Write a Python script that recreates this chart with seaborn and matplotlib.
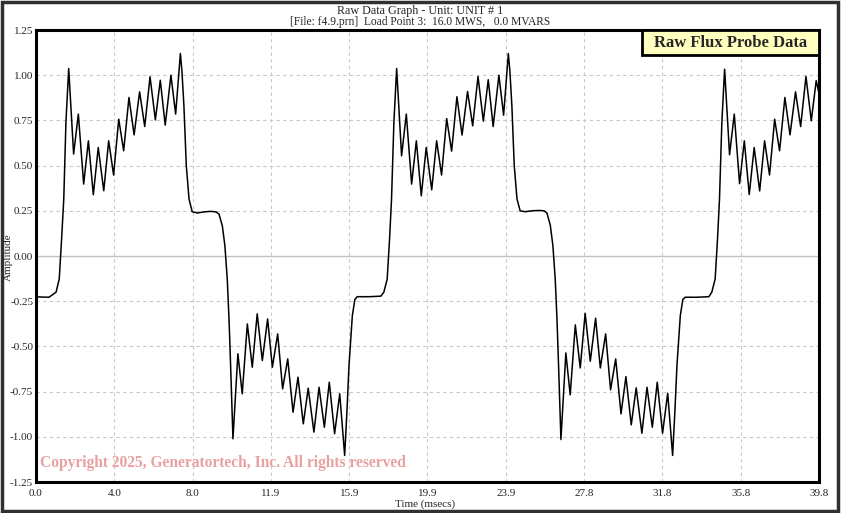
import numpy as np
import pandas as pd
import matplotlib
matplotlib.use("Agg")
import matplotlib.pyplot as plt
import seaborn as sns
from matplotlib.patches import Rectangle

# traced waveform, one list pair per cycle (time in ms, amplitude)
t_cycle1 = [0.00, 0.66, 1.02, 1.18, 1.30, 1.41, 1.52, 1.66, 1.91, 2.15, 2.42, 2.66, 2.91, 3.16,
            3.44, 3.69, 3.94, 4.20, 4.45, 4.72, 4.98, 5.26, 5.52, 5.79, 6.06, 6.31, 6.56, 6.85,
            7.09, 7.33, 7.41, 7.51, 7.63, 7.77, 7.93, 8.19, 8.53, 8.87, 9.14, 9.29, 9.46, 9.59,
            9.71, 9.80, 9.88, 10.00, 10.25, 10.47, 10.73, 10.98, 11.23, 11.49, 11.76, 12.00,
            12.27, 12.52, 12.78, 13.05, 13.30, 13.57, 13.82, 14.11, 14.37, 14.64, 14.89, 15.16,
            15.42, 15.67, 15.79, 15.89, 16.06, 16.19, 16.31, 16.91, 17.51]
a_cycle1 = [-0.226, -0.228, -0.200, -0.127, 0.094, 0.315, 0.740, 1.037, 0.564, 0.785, 0.398, 0.637,
            0.339, 0.600, 0.361, 0.637, 0.448, 0.757, 0.582, 0.877, 0.670, 0.908, 0.716, 0.991,
            0.753, 0.972, 0.724, 1.000, 0.785, 1.120, 1.020, 0.830, 0.500, 0.315, 0.245, 0.238,
            0.244, 0.247, 0.244, 0.232, 0.167, 0.057, -0.127, -0.350, -0.606, -1.011, -0.541,
            -0.762, -0.376, -0.615, -0.320, -0.578, -0.348, -0.615, -0.431, -0.735, -0.569,
            -0.864, -0.670, -0.928, -0.731, -0.974, -0.726, -0.947, -0.698, -0.983, -0.762,
            -1.103, -0.850, -0.606, -0.330, -0.240, -0.225, -0.225, -0.222]

t_cycle2 = [17.66, 17.83, 17.95, 18.05, 18.17, 18.31, 18.56, 18.80, 19.07, 19.31, 19.56, 19.81,
            20.09, 20.34, 20.59, 20.85, 21.10, 21.37, 21.63, 21.91, 22.17, 22.44, 22.71, 22.96,
            23.21, 23.50, 23.74, 23.98, 24.06, 24.16, 24.28, 24.42, 24.58, 24.84, 25.18, 25.52,
            25.79, 25.94, 26.11, 26.24, 26.36, 26.45, 26.53, 26.65, 26.90, 27.12, 27.38, 27.63,
            27.88, 28.14, 28.41, 28.65, 28.92, 29.17, 29.43, 29.70, 29.95, 30.22, 30.47, 30.76,
            31.02, 31.29, 31.54, 31.81, 32.07, 32.32, 32.44, 32.54, 32.71, 32.84, 32.96, 33.56,
            34.16]
a_cycle2 = [-0.200, -0.127, 0.094, 0.315, 0.740, 1.037, 0.554, 0.785, 0.398, 0.637, 0.333, 0.600,
            0.366, 0.637, 0.448, 0.760, 0.580, 0.881, 0.669, 0.910, 0.720, 0.993, 0.746, 0.975,
            0.716, 1.000, 0.779, 1.120, 1.020, 0.830, 0.500, 0.315, 0.250, 0.245, 0.250, 0.252,
            0.250, 0.238, 0.170, 0.060, -0.127, -0.350, -0.606, -1.015, -0.536, -0.768, -0.381,
            -0.619, -0.317, -0.582, -0.344, -0.619, -0.431, -0.740, -0.569, -0.873, -0.667,
            -0.934, -0.729, -0.980, -0.726, -0.947, -0.698, -0.980, -0.759, -1.103, -0.850,
            -0.606, -0.330, -0.240, -0.228, -0.228, -0.225]

t_cycle3 = [34.31, 34.48, 34.60, 34.70, 34.82, 34.96, 35.21, 35.45, 35.72, 35.96, 36.21, 36.46,
            36.74, 36.99, 37.24, 37.50, 37.75, 38.02, 38.28, 38.56, 38.82, 39.09, 39.36, 39.61,
            39.75]
a_cycle3 = [-0.200, -0.127, 0.094, 0.315, 0.740, 1.033, 0.560, 0.785, 0.400, 0.637, 0.340, 0.600,
            0.360, 0.637, 0.448, 0.757, 0.582, 0.877, 0.670, 0.908, 0.716, 0.993, 0.748, 0.970,
            0.900]

x_ticks = [0.0, 3.975, 7.95, 11.925, 15.9, 19.875, 23.85, 27.825, 31.8, 35.775, 39.75]
x_labels = ["0.0", "4.0", "8.0", "11.9", "15.9", "19.9", "23.9", "27.8", "31.8", "35.8", "39.8"]
y_ticks = [1.25, 1.0, 0.75, 0.5, 0.25, 0.0, -0.25, -0.5, -0.75, -1.0, -1.25]
y_labels = ["1.25", "1.00", "0.75", "0.50", "0.25", "0.00", "-0.25", "-0.50", "-0.75", "-1.00", "-1.25"]

df = pd.DataFrame({"time": t_cycle1 + t_cycle2 + t_cycle3,
                   "amp": a_cycle1 + a_cycle2 + a_cycle3})

sns.set_style("white")
plt.rcParams["font.family"] = ["Liberation Serif", "DejaVu Serif"]

fig = plt.figure(figsize=(8.41, 5.13), dpi=100)
ax = fig.add_axes([0.0428, 0.0604, 0.9310, 0.8811])

sns.lineplot(data=df, x="time", y="amp", color="black", linewidth=1.1,
             estimator=None, sort=False, ax=ax)

ax.set_xlim(0, 39.75)
ax.set_ylim(-1.25, 1.25)
ax.set_xticks(x_ticks)
ax.set_xticklabels(x_labels, fontsize=8)
ax.set_yticks(y_ticks)
ax.set_yticklabels(y_labels, fontsize=8)
ax.tick_params(axis="y", length=0, pad=2)
ax.tick_params(axis="x", length=0, pad=5)

for xt in x_ticks[1:-1]:
    ax.axvline(xt, color="#c8c8c8", linestyle=(0, (3, 3)), linewidth=0.8, zorder=0)
for yt in y_ticks[1:-1]:
    if yt == 0:
        ax.axhline(yt, color="#c0c0c0", linewidth=1.0, zorder=0)
    else:
        ax.axhline(yt, color="#c8c8c8", linestyle=(0, (3, 3)), linewidth=0.8, zorder=0)

for s in ax.spines.values():
    s.set_color("black")
    s.set_linewidth(2.2)
    s.set_zorder(5)

ax.set_xlabel("")
ax.set_ylabel("")
fig.text(0.506, 1 - 504 / 513, "Time (msecs)", ha="center", va="center", fontsize=8)
fig.text(8 / 841, 1 - 257 / 513, "Amplitude", rotation=90, ha="center", va="center", fontsize=8)

fig.text(0.5, 1 - 11 / 513, "Raw Data Graph - Unit: UNIT # 1", ha="center", va="center", fontsize=8.7)
fig.text(0.5, 1 - 22 / 513, "[File: f4.9.prn]  Load Point 3:  16.0 MWS,   0.0 MVARS",
         ha="center", va="center", fontsize=8.3)

# label box in the top right corner of the plot
ax.add_patch(Rectangle((0.774, 0.9447), 0.226, 0.0553, transform=ax.transAxes,
                       facecolor="#ffffc0", edgecolor="black", linewidth=2, zorder=6))
ax.text(0.887, 0.9723, "Raw Flux Probe Data", transform=ax.transAxes, ha="center", va="center",
        fontsize=12, fontweight="bold", zorder=7)

ax.text(0.005, 0.025, "Copyright 2025, Generatortech, Inc. All rights reserved",
        transform=ax.transAxes, ha="left", va="bottom", fontsize=11.2, fontweight="bold",
        color="#e8a0a0")

fig.patches.append(Rectangle((0.002, 0.003), 0.995, 0.994, transform=fig.transFigure,
                             fill=False, edgecolor="#303030", linewidth=2.5))

fig.savefig("out.png", dpi=100)
